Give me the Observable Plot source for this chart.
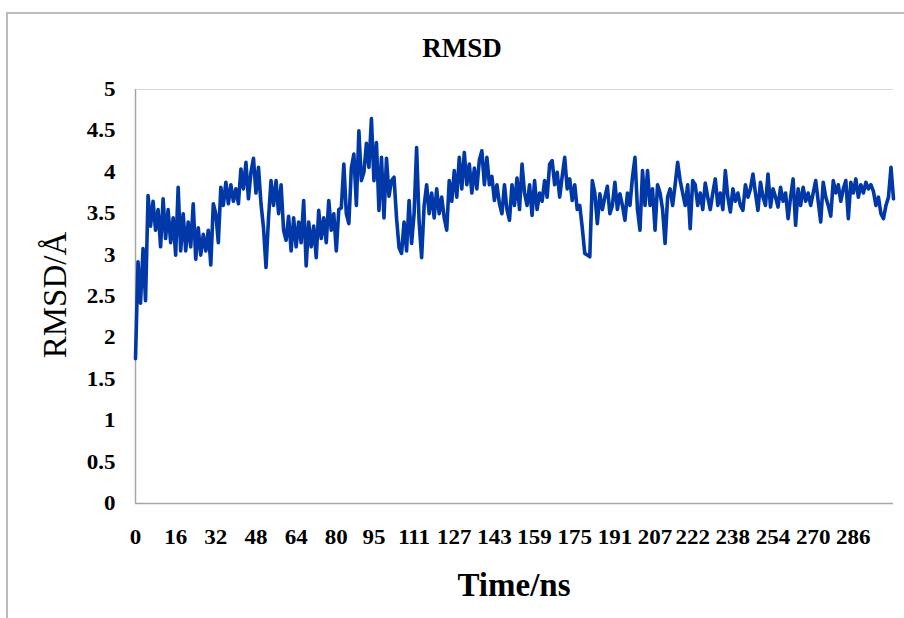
<!DOCTYPE html>
<html>
<head>
<meta charset="utf-8">
<script src="https://cdn.jsdelivr.net/npm/d3@7"></script>
<script src="https://cdn.jsdelivr.net/npm/@observablehq/plot@0.6"></script>
<style>
  html, body { margin: 0; padding: 0; background: #fff; }
  #chart { width: 904px; height: 618px; overflow: hidden; }
</style>
</head>
<body>
<div id="chart"></div>
<script>
// ---- data ----
const chartTitle = "RMSD";
const xTitle = "Time/ns";
const yTitle = "RMSD/Å";
const timeStepNs = 1; // sampling step of the values below (ns)
const rmsd = [
  1.75, 2.92, 2.42, 3.08, 2.45, 3.72, 3.35, 3.65, 3.3, 3.55,
  3.1, 3.68, 3.2, 3.55, 3.15, 3.45, 3.0, 3.82, 3.05, 3.5,
  3.05, 3.4, 3.1, 3.62, 2.95, 3.33, 3.0, 3.25, 3.05, 3.3,
  2.88, 3.62, 3.5, 3.15, 3.82, 3.6, 3.88, 3.62, 3.85, 3.65,
  3.8, 3.62, 4.04, 3.8, 4.12, 3.68, 4.0, 4.17, 3.75, 4.06,
  3.62, 3.33, 2.85, 3.45, 3.9, 3.6, 3.9, 3.5, 3.85, 3.3,
  3.18, 3.47, 3.05, 3.45, 3.1, 3.4, 3.15, 3.66, 2.87, 3.4,
  3.1, 3.35, 2.97, 3.54, 3.2, 3.45, 3.15, 3.66, 3.3, 3.5,
  3.05, 3.55, 3.57, 4.1, 3.5, 3.38, 4.05, 4.22, 3.6, 4.5,
  3.9, 4.0, 4.35, 4.06, 4.65, 3.9, 4.36, 3.54, 4.18, 3.45,
  4.17, 3.71, 3.9, 3.94, 3.45, 3.09, 3.02, 3.4, 3.05, 3.66,
  3.14, 3.5, 4.3, 3.4, 2.97, 3.6, 3.85, 3.5, 3.75, 3.45,
  3.8, 3.5, 3.7, 3.45, 3.3, 3.9, 3.65, 4.02, 3.7, 4.18,
  3.8, 4.24, 3.85, 4.1, 3.75, 4.05, 3.8, 4.15, 4.26, 3.85,
  4.18, 3.85, 3.95, 3.66, 3.85, 3.62, 3.5, 3.85, 3.55, 3.42,
  3.85, 3.6, 3.93, 3.55, 4.1, 3.75, 3.6, 3.85, 3.48, 3.9,
  3.55, 3.75, 3.65, 3.9, 3.7, 4.1, 4.14, 3.85, 4.0, 3.7,
  3.95, 4.18, 3.8, 3.92, 3.66, 3.85, 3.55, 3.6, 3.33, 3.02,
  3.0, 2.98, 3.9, 3.75, 3.38, 3.74, 3.55, 3.7, 3.83, 3.5,
  3.6, 3.88, 3.55, 3.74, 3.6, 3.42, 3.75, 3.6, 3.94, 4.18,
  3.55, 3.3, 4.02, 3.6, 4.02, 3.6, 3.8, 3.3, 3.85, 3.75,
  3.55, 3.14, 3.7, 3.8, 3.6, 3.85, 4.12, 3.9, 3.75, 3.6,
  3.85, 3.32, 3.9, 3.85, 3.6, 3.75, 3.55, 3.87, 3.7, 3.55,
  3.75, 3.92, 3.6, 3.75, 3.55, 4.02, 3.7, 3.52, 3.8, 3.65,
  3.75, 3.6, 3.54, 3.85, 3.7, 3.8, 3.98, 3.75, 3.54, 3.88,
  3.7, 3.6, 3.98, 3.58, 3.8, 3.7, 3.58, 3.82, 3.65, 3.75,
  3.44, 3.7, 3.92, 3.36, 3.8, 3.6, 3.82, 3.65, 3.75, 3.6,
  3.75, 3.9, 3.65, 3.4, 3.88, 3.7, 3.6, 3.47, 3.9, 3.75,
  3.85, 3.65, 3.8, 3.9, 3.44, 3.88, 3.75, 3.92, 3.7, 3.85,
  3.75, 3.88, 3.8, 3.85, 3.77, 3.6, 3.7, 3.5, 3.44, 3.6,
  3.7, 4.06, 3.68
];
const xTickLabels = [0, 16, 32, 48, 64, 80, 95, 111, 127, 143, 159, 175, 191, 207, 222, 238, 254, 270, 286];
const yTickLabels = [0, 0.5, 1, 1.5, 2, 2.5, 3, 3.5, 4, 4.5, 5];
const xDomain = [0, 302];
const yDomain = [0, 5];

// ---- build table ----
const rows = rmsd.map((v, i) => ({t: i * timeStepNs, v}));

const W = 904, H = 618;
const serif = "'Liberation Serif', 'Times New Roman', serif";

const plot = Plot.plot({
  width: W,
  height: H,
  marginTop: 89,
  marginBottom: 115,
  marginLeft: 135,
  marginRight: 11,
  style: {background: "#fff", fontFamily: serif, color: "#000"},
  x: {domain: xDomain, label: null},
  y: {domain: yDomain, label: null},
  marks: [
    Plot.ruleY([yDomain[1]], {stroke: "#d9d9d9", strokeWidth: 1}),
    Plot.ruleX([xDomain[0]], {stroke: "#a6a6a6", strokeWidth: 1.5}),
    Plot.ruleY([yDomain[0]], {stroke: "#a6a6a6", strokeWidth: 1.5}),
    Plot.line(rows, {x: "t", y: "v", stroke: "#0038a8", strokeWidth: 3.6, strokeLinejoin: "round", strokeLinecap: "round"}),
    Plot.axisX({ticks: xTickLabels, tickFormat: d => String(d), tickSize: 0, tickPadding: 26,
      fontSize: 20, fontWeight: "bold", fill: "#000", label: null}),
    Plot.axisY({ticks: yTickLabels, tickFormat: d => String(d), tickSize: 0, tickPadding: 20,
      fontSize: 20, fontWeight: "bold", fill: "#000", label: null})
  ]
});

document.getElementById("chart").appendChild(plot);

const svg = d3.select(plot);
// stretch tick labels slightly horizontally, as in the reference
svg.selectAll('g[aria-label="x-axis tick label"] text, g[aria-label="y-axis tick label"] text').each(function() {
  const el = d3.select(this);
  const tr = el.attr("transform");
  if (tr) el.attr("transform", tr + " scale(1.15,1)");
});

// outer chart border
svg.insert("rect", ":first-child")
  .attr("x", 7).attr("y", 13).attr("width", 1000).attr("height", 1000)
  .attr("fill", "#fff").attr("stroke", "#a6a6a6").attr("stroke-width", 1.5);

// titles
svg.append("text")
  .attr("transform", "translate(462,57)")
  .attr("text-anchor", "middle")
  .attr("font-family", serif).attr("font-weight", "bold").attr("font-size", 27)
  .attr("fill", "#000")
  .text(chartTitle);

svg.append("text")
  .attr("transform", "translate(514,596)")
  .attr("text-anchor", "middle")
  .attr("font-family", serif).attr("font-weight", "bold").attr("font-size", 33)
  .attr("fill", "#000")
  .text(xTitle);

svg.append("text")
  .attr("transform", "translate(66,295) rotate(-90)")
  .attr("text-anchor", "middle")
  .attr("font-family", serif).attr("font-size", 33)
  .attr("fill", "#000")
  .text(yTitle);
</script>
</body>
</html>
